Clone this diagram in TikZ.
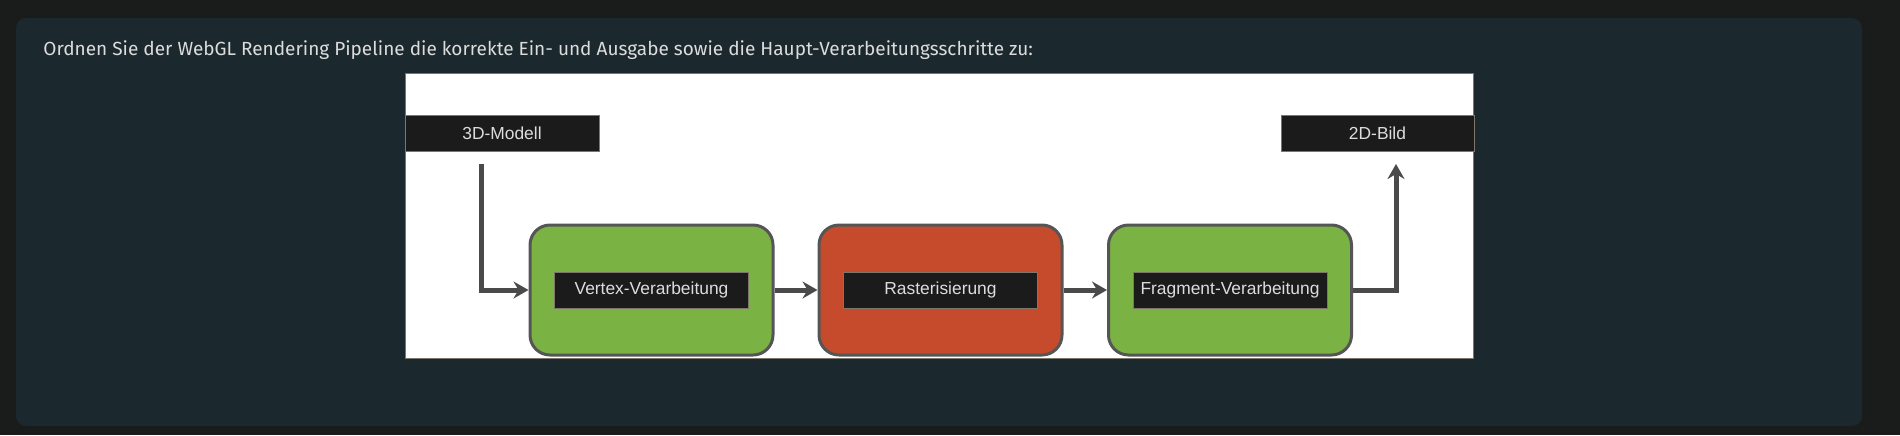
\documentclass[tikz,border=0pt]{standalone}
\usepackage{fontspec}
\setmainfont{Liberation Sans}
\newfontfamily\titlefont{Fira Sans}
\usepackage{xcolor}
\usepackage{tikz}
\usetikzlibrary{arrows.meta,positioning}

\definecolor{pagebg}{HTML}{1A1C1C}
\definecolor{cardbg}{HTML}{1B282D}
\definecolor{titlegray}{HTML}{DCDCDC}
\definecolor{stagegreen}{HTML}{7AB244}
\definecolor{stagered}{HTML}{C64A2C}
\definecolor{stageline}{HTML}{555555}
\definecolor{arrowgray}{HTML}{4A4A4A}
\definecolor{tagfill}{HTML}{1B1B1B}
\definecolor{tagline}{HTML}{7D776B}

\begin{document}
\begin{tikzpicture}[
        x=0.5pt, y=-0.5pt,
        stage/.style={rectangle, rounded corners=10pt, draw=stageline, line width=1.5pt, minimum width=121.5pt, minimum height=65pt},
        tag/.style={rectangle, draw=tagline, line width=0.5pt, fill=tagfill, text=titlegray, minimum width=97pt, minimum height=18pt, inner sep=0pt, font=\fontsize{8.7pt}{10pt}\selectfont},
        arrow/.style={draw=arrowgray, line width=2.5pt, -{Stealth[length=7.5pt, width=8.5pt, inset=2.5pt]}}
    ]
        % Background and card
        \fill[pagebg] (0,0) rectangle (1900,435);
        \useasboundingbox (0,0) rectangle (1900,435);
        \fill[cardbg, rounded corners=5pt] (16,18) rectangle (1862,426);
        \node[anchor=base west, inner sep=0pt, text=titlegray, font=\titlefont\fontsize{9.5pt}{12pt}\selectfont] (question) at (43,55) {Ordnen Sie der WebGL Rendering Pipeline die korrekte Ein- und Ausgabe sowie die Haupt-Verarbeitungsschritte zu:};

        % Image frame
        \draw[fill=white, draw=tagline, line width=0.5pt] (405,73) rectangle (1473,358);

        % Input and output
        \node[tag] (model) at (502,133) {3D-Modell};
        \node[tag, minimum width=96.5pt] (image) at (1377.5,133) {2D-Bild};

        % Processing steps
        \node[stage, fill=stagegreen] (vertex) at (651.5,290) {};
        \node[stage, fill=stagered] (raster) at (940.5,290) {};
        \node[stage, fill=stagegreen] (fragment) at (1230,290) {};
        \node[tag] (vertexlabel) at (vertex) {Vertex-Verarbeitung};
        \node[tag] (rasterlabel) at (raster) {Rasterisierung};
        \node[tag] (fragmentlabel) at (fragment) {Fragment-Verarbeitung};

        % Connections
        \coordinate (modelout) at (481,164);
        \coordinate (imagein) at (1396,164);
        \draw[arrow] (modelout) |- (vertex.west);
        \draw[arrow] (vertex) -- (raster);
        \draw[arrow] (raster) -- (fragment);
        \draw[arrow] (fragment.east) -| (imagein);
    \end{tikzpicture}
\end{document}
